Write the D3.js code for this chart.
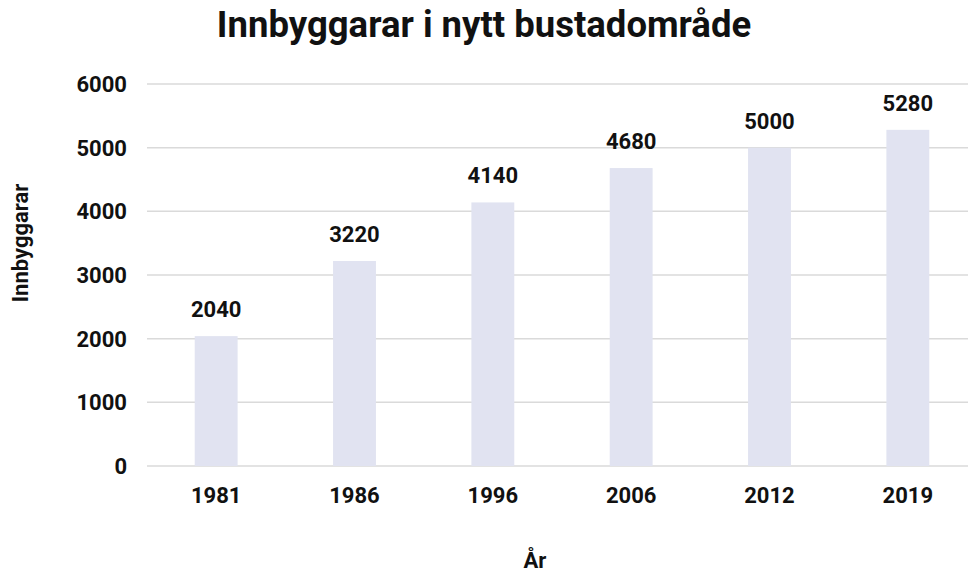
<!DOCTYPE html>
<html>
<head>
<meta charset="utf-8">
<script src="https://cdn.jsdelivr.net/npm/d3@7"></script>
<style>
  body { margin: 0; background: #fff; }
  text { font-family: Roboto, "DejaVu Sans", sans-serif; font-weight: bold; fill: #111; }
</style>
</head>
<body>
<svg id="chart"></svg>
<script>
var years = ["1981", "1986", "1996", "2006", "2012", "2019"];
var residents = [2040, 3220, 4140, 4680, 5000, 5280];
var yTicks = [0, 1000, 2000, 3000, 4000, 5000, 6000];

var w = 968;
var h = 573;
var plotLeft = 147, plotRight = 977, plotTop = 84, plotBottom = 466;

var svg = d3.select("#chart")
            .attr("width", w)
            .attr("height", h);

var scaleX = d3.scaleBand()
  .domain(years)
  .range([plotLeft, plotRight])
  .paddingInner(0.69)
  .paddingOuter(0.345);

var scaleY = d3.scaleLinear()
  .domain([0, 6000])
  .range([plotBottom, plotTop]);

// grid lines
svg.selectAll("line.grid")
  .data(yTicks)
  .enter()
  .append("line")
    .attr("class", "grid")
    .attr("x1", plotLeft)
    .attr("x2", w)
    .attr("y1", function(d){ return scaleY(d); })
    .attr("y2", function(d){ return scaleY(d); })
    .style("stroke", "#dadada")
    .style("stroke-width", 1.5);

// y tick labels
svg.selectAll("text.ytick")
  .data(yTicks)
  .enter()
  .append("text")
    .attr("class", "ytick")
    .attr("x", 127)
    .attr("y", function(d){ return scaleY(d); })
    .attr("dy", "0.36em")
    .attr("text-anchor", "end")
    .style("font-size", "22px")
    .text(function(d){ return d; });

// bars
svg.selectAll("rect")
  .data(residents)
  .enter()
  .append("rect")
    .attr("x", function(d, i){ return scaleX(years[i]); })
    .attr("y", function(d){ return scaleY(d); })
    .attr("width", scaleX.bandwidth())
    .attr("height", function(d){ return plotBottom - scaleY(d); })
    .style("fill", "#e1e3f1");

// value labels
svg.selectAll("text.val")
  .data(residents)
  .enter()
  .append("text")
    .attr("class", "val")
    .attr("x", function(d, i){ return scaleX(years[i]) + scaleX.bandwidth() / 2; })
    .attr("y", function(d){ return scaleY(d) - 19; })
    .attr("text-anchor", "middle")
    .style("font-size", "22px")
    .text(function(d){ return d; });

// x labels
svg.selectAll("text.xtick")
  .data(years)
  .enter()
  .append("text")
    .attr("class", "xtick")
    .attr("x", function(d){ return scaleX(d) + scaleX.bandwidth() / 2; })
    .attr("y", 503)
    .attr("text-anchor", "middle")
    .style("font-size", "22px")
    .text(function(d){ return d; });

// title
svg.append("text")
  .attr("x", 484)
  .attr("y", 37)
  .attr("text-anchor", "middle")
  .style("font-size", "36.5px")
  .text("Innbyggarar i nytt bustadområde");

// axis titles
svg.append("text")
  .attr("x", 535)
  .attr("y", 568)
  .attr("text-anchor", "middle")
  .style("font-size", "22px")
  .text("År");

svg.append("text")
  .attr("transform", "translate(28,243) rotate(-90)")
  .attr("text-anchor", "middle")
  .style("font-size", "22px")
  .text("Innbyggarar");
</script>
</body>
</html>
